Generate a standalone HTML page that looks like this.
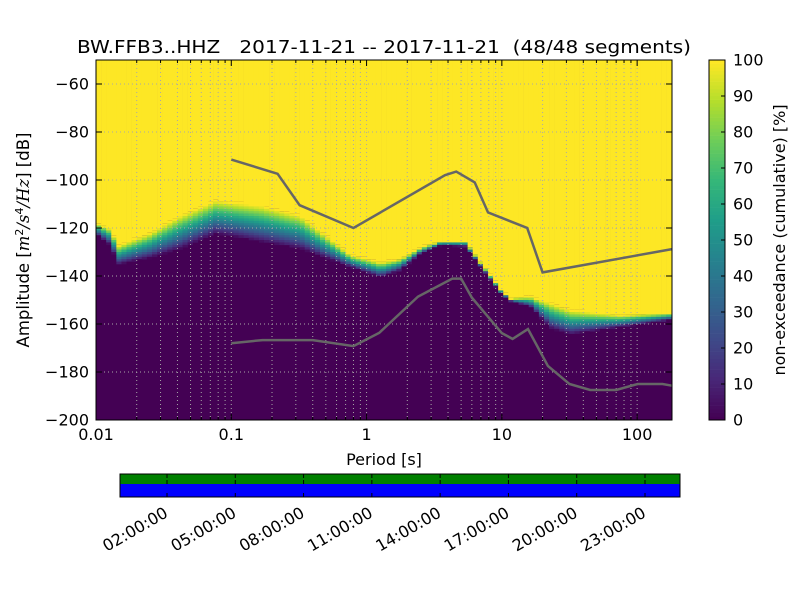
<!DOCTYPE html>
<html><head><meta charset="utf-8"><style>
body{margin:0;background:#fff;}
svg{display:block;font-family:"DejaVu Sans","Liberation Sans",sans-serif;}
</style></head><body>
<svg id="chart" width="800" height="600" viewBox="0 0 800 600" xmlns="http://www.w3.org/2000/svg">
<rect width="800" height="600" fill="#fff"/>
<text x="384" y="53" font-size="18" text-anchor="middle" textLength="614" lengthAdjust="spacingAndGlyphs" xml:space="preserve">BW.FFB3..HHZ   2017-11-21 -- 2017-11-21  (48/48 segments)</text>
<g id="heat"></g>
<g id="grid"></g>
<g id="models"></g>
<rect x="96" y="60" width="576" height="360" fill="none" stroke="#000" stroke-width="1"/>
<g id="axes" font-size="16"></g>
<text x="384" y="465" font-size="16" text-anchor="middle">Period [s]</text>
<text transform="translate(29,240) rotate(-90)" font-size="16.5" text-anchor="middle">Amplitude [<tspan font-family="DejaVu Serif" font-style="italic">m</tspan><tspan font-size="11" dy="-6">2</tspan><tspan dy="6" font-family="DejaVu Serif" font-style="italic">/s</tspan><tspan font-size="11" dy="-6">4</tspan><tspan dy="6" font-family="DejaVu Serif" font-style="italic">/Hz</tspan>] [dB]</text>
<g id="cbar" font-size="16"></g>
<text transform="translate(785,240) rotate(-90)" font-size="16" text-anchor="middle">non-exceedance (cumulative) [%]</text>
<g id="timeline" font-size="16"></g>
</svg>
<script>
// ---- data ----
const periods   = [0.01,0.0127,0.0147,0.0253,0.042,0.0765,0.099,0.165,0.325,0.762,1.27,1.78,2.5,3.52,5.39,6.96,9.79,11.6,16.3,22.9,32.2,75,181];
const yellowDb  = [-117.5,-120,-127,-121.7,-114.6,-108.3,-109,-110.4,-114.6,-131,-134,-132.5,-128,-125,-125,-134,-145,-149,-148.3,-151,-154,-156,-155];
const darkDb    = [-121.7,-126,-134,-131,-127,-120.8,-121.7,-124,-127,-135.4,-139.6,-136.7,-130,-126.7,-127,-135.4,-146.7,-150,-152,-160.4,-163,-160.4,-157.5];
const nhnmPer   = [0.1,0.22,0.32,0.8,3.8,4.6,6.3,7.9,15.4,20,181];
const nhnmDb    = [-91.5,-97.4,-110.5,-120,-98,-96.5,-101,-113.5,-120,-138.5,-128.8];
const nlnmPer   = [0.1,0.17,0.4,0.8,1.24,2.4,4.3,5,6,10,12,15.6,21.9,31.6,45,70,101,154,181];
const nlnmDb    = [-168,-166.7,-166.7,-169.2,-163.7,-148.6,-141.1,-141.1,-149,-163.8,-166.2,-162.1,-177.5,-185,-187.5,-187.5,-185,-185,-185.7];
const yTicks    = [-60,-80,-100,-120,-140,-160,-180,-200];
const xTicks    = [0.01,0.1,1,10,100];
const xTickLabels = ["0.01","0.1","1","10","100"];
const cTicks    = [0,10,20,30,40,50,60,70,80,90,100];
const timeLabels = ["02:00:00","05:00:00","08:00:00","11:00:00","14:00:00","17:00:00","20:00:00","23:00:00"];
const timeHours  = [2,5,8,11,14,17,20,23];

// ---- scales ----
const X0=96,X1=672,Y0=60,Y1=420, PMIN=0.01, PMAX=181, DBTOP=-50, DBBOT=-200;
const xS=p=>X0+(Math.log10(p)-Math.log10(PMIN))/(Math.log10(PMAX)-Math.log10(PMIN))*(X1-X0);
const yS=d=>Y0+(DBTOP-d)/(DBTOP-DBBOT)*(Y1-Y0);
const NS="http://www.w3.org/2000/svg";
function mk(tag,attrs,parent){const e=document.createElementNS(NS,tag);for(const k in attrs)e.setAttribute(k,attrs[k]);parent.appendChild(e);return e;}
const vir=[[68,1,84],[72,40,120],[62,74,137],[49,104,142],[38,130,142],[31,158,137],[53,183,121],[109,205,89],[180,222,44],[253,231,37]];
function viridis(t){t=Math.max(0,Math.min(1,t));const s=t*(vir.length-1),i=Math.min(Math.floor(s),vir.length-2),f=s-i;
 const c=vir[i].map((v,k)=>Math.round(v+(vir[i+1][k]-v)*f));return `rgb(${c[0]},${c[1]},${c[2]})`;}
function interpLog(arrP,arrV,p){
 const lp=Math.log10(p);
 for(let i=0;i<arrP.length-1;i++){const a=Math.log10(arrP[i]),b=Math.log10(arrP[i+1]);
  if(lp>=a&&lp<=b){return arrV[i]+(arrV[i+1]-arrV[i])*(lp-a)/(b-a);}}
 return lp<Math.log10(arrP[0])?arrV[0]:arrV[arrV.length-1];}

// ---- heatmap ----
const heat=document.getElementById('heat');
let r=mk('rect',{x:X0,y:Y0,width:X1-X0,height:Y1-Y0,fill:'#440154'},heat);


const colW=(X1-X0)/(Math.log10(PMAX)-Math.log10(PMIN))*Math.log10(2)/8, dbStep=1;
for(let x=X0;x<X1;x+=colW){
 const p=Math.pow(10,Math.log10(PMIN)+((x+colW/2)-X0)/(X1-X0)*(Math.log10(PMAX)-Math.log10(PMIN)));
 const yd=interpLog(periods,yellowDb,p), dd=interpLog(periods,darkDb,p);
 const w=Math.min(colW,X1-x)+0.3;
 let ytop=Math.round(yd/dbStep)*dbStep;
 let c=mk('rect',{x:x,y:Y0,width:w,height:yS(ytop)-Y0,fill:'#fde725'},heat);
 
 
 for(let d=ytop;d>dd-dbStep;d-=dbStep){
  const t=0.1+0.9*(d-dd)/(yd-dd);
  c=mk('rect',{x:x,y:yS(d),width:w,height:2.4*dbStep+0.3,fill:viridis(t)},heat);
  
  
 }
}
// ---- grid ----
const grid=document.getElementById('grid');
for(let e=-2;e<=2;e++)for(let m=1;m<=9;m++){const p=m*Math.pow(10,e);if(p<=PMIN||p>=PMAX)continue;
 const l=mk('line',{x1:xS(p),x2:xS(p),y1:Y0,y2:Y1,stroke:'#a8a8a8','stroke-width':1,'stroke-dasharray':'1,3'},grid);
 
 }
yTicks.forEach(d=>{if(d<=DBBOT)return;const l=mk('line',{x1:X0,x2:X1,y1:yS(d),y2:yS(d),stroke:'#a8a8a8','stroke-width':1,'stroke-dasharray':'1,3'},grid);
 
 });
// ---- models ----
const models=document.getElementById('models');
let pl=mk('polyline',{points:nhnmPer.map((p,i)=>xS(p)+','+yS(nhnmDb[i])).join(' '),fill:'none',stroke:'#666','stroke-width':2.5},models);


pl=mk('polyline',{points:nlnmPer.map((p,i)=>xS(p)+','+yS(nlnmDb[i])).join(' '),fill:'none',stroke:'#666','stroke-width':2.5},models);


// ---- axes ----
const axes=document.getElementById('axes');
yTicks.forEach(d=>{const y=yS(d);
 mk('line',{x1:X0,x2:X0+6,y1:y,y2:y,stroke:'#000'},axes);mk('line',{x1:X1-6,x2:X1,y1:y,y2:y,stroke:'#000'},axes);
 const t=mk('text',{x:X0-7,y:y+5.5,'text-anchor':'end'},axes);t.textContent='\u2212'+Math.abs(d);
 
 });
xTicks.forEach((p,i)=>{const x=xS(p);
 mk('line',{x1:x,x2:x,y1:Y1,y2:Y1-6,stroke:'#000'},axes);mk('line',{x1:x,x2:x,y1:Y0,y2:Y0+6,stroke:'#000'},axes);
 const t=mk('text',{x:x,y:Y1+20,'text-anchor':'middle'},axes);t.textContent=xTickLabels[i];
 
 });
for(let e=-2;e<=2;e++)for(let m=2;m<=9;m++){const p=m*Math.pow(10,e);if(p>=PMAX)continue;const x=xS(p);
 mk('line',{x1:x,x2:x,y1:Y1,y2:Y1-3,stroke:'#000'},axes);mk('line',{x1:x,x2:x,y1:Y0,y2:Y0+3,stroke:'#000'},axes);}
// ---- colorbar ----
const cb=document.getElementById('cbar');const CX=709,CW=16;
for(let i=0;i<100;i++){const c=mk('rect',{x:CX,y:Y1-(i+1)*3.6,width:CW,height:3.9,fill:viridis(i/99)},cb);
 
 }
mk('rect',{x:CX,y:Y0,width:CW,height:Y1-Y0,fill:'none',stroke:'#000'},cb);
cTicks.forEach(v=>{const y=Y1-v*3.6;mk('line',{x1:CX+CW-4,x2:CX+CW,y1:y,y2:y,stroke:'#000'},cb);
 const t=mk('text',{x:CX+CW+8,y:y+5.5},cb);t.textContent=v;
 
 });
// ---- timeline ----
const tl=document.getElementById('timeline');
const TX0=120,TX1=680,hS=h=>167+(h-2)*(645-167)/21;
let b=mk('rect',{x:TX0,y:474,width:TX1-TX0,height:10,fill:'#008000'},tl);


b=mk('rect',{x:TX0,y:484,width:TX1-TX0,height:13,fill:'#0000ff'},tl);


mk('rect',{x:TX0,y:474,width:TX1-TX0,height:23,fill:'none',stroke:'#000'},tl);
timeHours.forEach((h,i)=>{const x=hS(h);
 mk('line',{x1:x,x2:x,y1:474,y2:478,stroke:'#000'},tl);mk('line',{x1:x,x2:x,y1:484,y2:480,stroke:'#000'},tl);
 mk('line',{x1:x,x2:x,y1:497,y2:493,stroke:'#000'},tl);
 const t=mk('text',{transform:`translate(${x+2},${516}) rotate(-30)`,'text-anchor':'end'},tl);t.textContent=timeLabels[i];
 
 });
</script>
</body></html>
